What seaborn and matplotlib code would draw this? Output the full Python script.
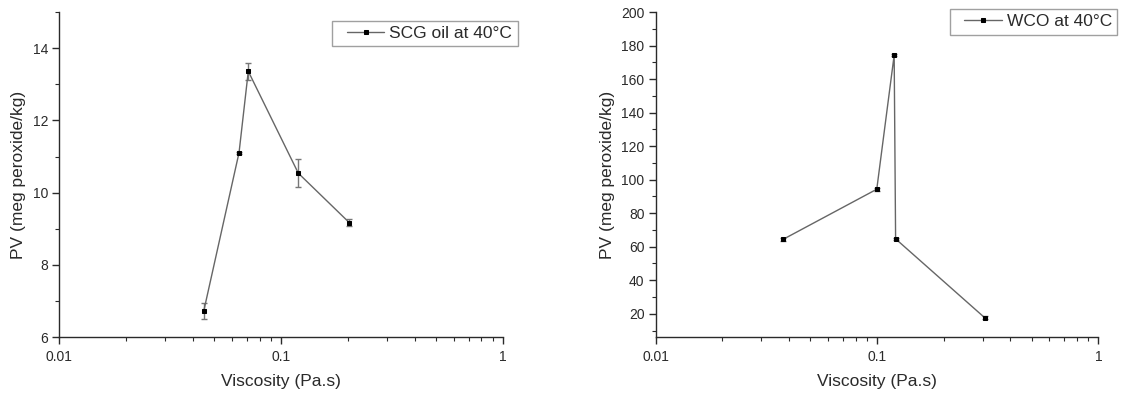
import numpy as np
import pandas as pd
import matplotlib
matplotlib.use("Agg")
import matplotlib.pyplot as plt
import seaborn as sns
from matplotlib.ticker import MultipleLocator
from matplotlib.legend_handler import HandlerLine2D

# Data
scg_visc = [0.0448, 0.0646, 0.0711, 0.1195, 0.203]
scg_pv = [6.73, 11.11, 13.36, 10.54, 9.17]
scg_err = [0.23, 0.03, 0.24, 0.39, 0.10]

wco_visc = [0.0378, 0.0998, 0.1196, 0.1214, 0.307]
wco_pv = [64.5, 94.3, 174.3, 64.7, 17.6]
wco_err = [0.8, 0.8, 0.8, 0.8, 0.8]

scg_label = "SCG oil at 40°C"
wco_label = "WCO at 40°C"
x_label = "Viscosity (Pa.s)"
y_label = "PV (meg peroxide/kg)"

sns.set_style("ticks")
plt.rcParams['font.family'] = ['Liberation Sans', 'DejaVu Sans']

fig = plt.figure(figsize=(11.21, 3.94), dpi=100)
ax1 = fig.add_axes([0.0529, 0.144, 0.3958, 0.8255])
ax2 = fig.add_axes([0.5848, 0.144, 0.3950, 0.8255])

line_col = "#666666"
txt_col = "#2a2a2a"


class ShiftedHandler(HandlerLine2D):
    """Line handle that leaves some empty space on its left, as in the reference."""
    def create_artists(self, legend, orig_handle, xdescent, ydescent, width,
                       height, fontsize, trans):
        arts = super().create_artists(legend, orig_handle, xdescent, ydescent,
                                      width, height, fontsize, trans)
        frac = 0.2
        for a in arts:
            x = np.asarray(a.get_xdata(), float)
            x0, x1 = x[0], x[-1]
            a.set_xdata(x0 + frac * (x1 - x0) + (x - x0) * (1 - frac))
        return arts


def panel(ax, x, y, err, label, ylim, ymajor, yminor, leg_anchor, ylab_x):
    df = pd.DataFrame({"x": x, "y": y})
    ax.errorbar(x, y, yerr=err, fmt="none", ecolor="#777777", elinewidth=1.0,
                capsize=2.2, capthick=1.0, zorder=2)
    sns.lineplot(data=df, x="x", y="y", sort=False, ax=ax, color=line_col,
                 linewidth=1.0, marker="s", markersize=3.2,
                 markerfacecolor="black", markeredgecolor="black",
                 label=label, zorder=3)
    ax.set_xscale("log")
    ax.set_xlim(0.01, 1)
    ax.set_ylim(*ylim)
    ax.set_xticks([0.01, 0.1, 1])
    ax.set_xticklabels(["0.01", "0.1", "1"])
    ax.yaxis.set_major_locator(MultipleLocator(ymajor))
    ax.yaxis.set_minor_locator(MultipleLocator(yminor))
    ax.tick_params(axis="both", which="major", direction="out", length=5,
                   width=1, labelsize=10, colors=txt_col, pad=3)
    ax.tick_params(axis="x", which="major", pad=4.5)
    ax.tick_params(axis="both", which="minor", direction="out", length=2.8,
                   width=0.8, colors=txt_col)
    ax.set_xlabel(x_label, fontsize=12.5, color=txt_col)
    ax.set_ylabel(y_label, fontsize=12.5, color=txt_col)
    ax.xaxis.set_label_coords(0.5, -0.136)
    ax.yaxis.set_label_coords(ylab_x, 0.5)
    ax.xaxis.label.set_verticalalignment("center")
    ax.yaxis.label.set_verticalalignment("center")
    for s in ["left", "bottom"]:
        ax.spines[s].set_linewidth(1.0)
        ax.spines[s].set_color(txt_col)
    sns.despine(ax=ax)
    handles, labels = ax.get_legend_handles_labels()
    leg = ax.legend(handles, labels, loc="upper left", bbox_to_anchor=leg_anchor,
                    fontsize=12.5, frameon=True, fancybox=False,
                    edgecolor="#888888", handlelength=2.7, borderpad=0.3,
                    handletextpad=0.3, borderaxespad=0.0, markerscale=0.8,
                    labelcolor=txt_col,
                    handler_map={type(handles[0]): ShiftedHandler()})
    leg.get_frame().set_linewidth(1.0)
    return ax

panel(ax1, scg_visc, scg_pv, scg_err, scg_label, (6, 15), 2, 1, (0.615, 0.973), -0.092)
panel(ax2, wco_visc, wco_pv, wco_err, wco_label, (6, 200), 20, 10, (0.664, 1.009), -0.108)

fig.savefig("out.png", dpi=100)
